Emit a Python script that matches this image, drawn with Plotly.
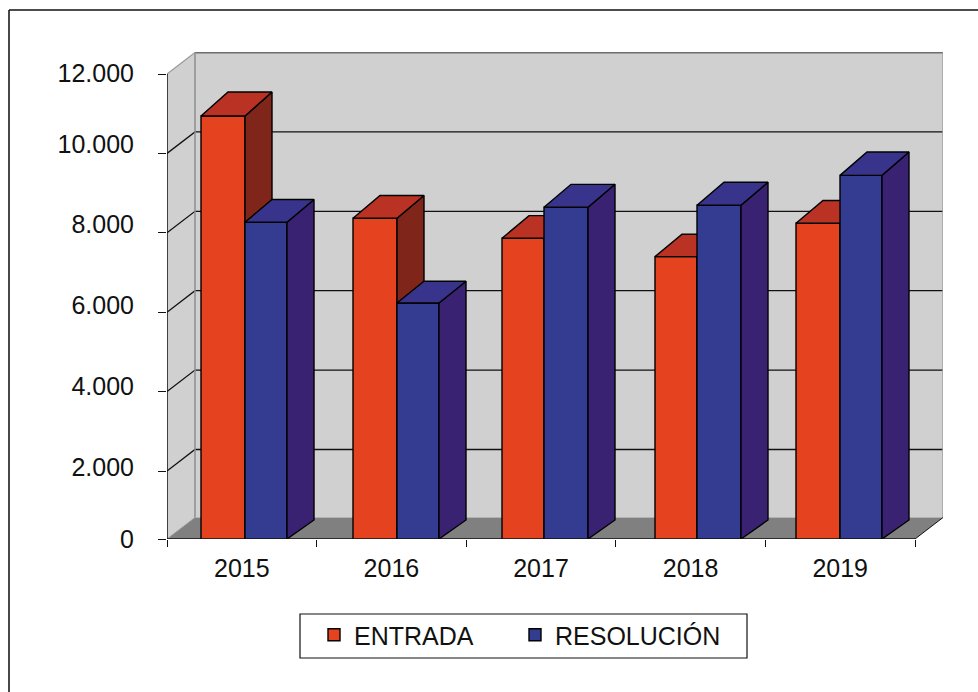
import plotly.graph_objects as go

YEARS = ["2015", "2016", "2017", "2018", "2019"]
ENTRADA = [10942, 8365, 7862, 7400, 8240]
RESOLUCION = [8265, 6230, 8642, 8693, 9446]
Y_TICKS = [12000, 10000, 8000, 6000, 4000, 2000]
Y_LABELS = ["12.000", "10.000", "8.000", "6.000", "4.000", "2.000", "0"]
Y_LABEL_PX = [73, 144, 224, 305, 386, 467, 539]
DIVIDER_PX = [245, 397, 544, 697, 840]
RED_W_PX = [44, 44, 42, 42, 44]
BLUE_W_PX = [42, 42, 44, 44, 42]

FONT = "Liberation Sans, Arial, sans-serif"
W, H = 978, 692
L, R, T, B = 167, 943, 52, 539
CAT_PX = 149.6
PX_PER_UNIT = 79.4 / 2000
V0 = 12000 - (B - 74) / PX_PER_UNIT
VMAX = 12000 + (74 - T) / PX_PER_UNIT
WALL_DX = 28 / CAT_PX
XMAX = 5 + WALL_DX
WALL_DY = 21.5 / PX_PER_UNIT
BAR_DX = 27 / CAT_PX
BAR_BASE_DY = 19 / PX_PER_UNIT
RED, RED_TOP, RED_SIDE = "#E5431F", "#B93223", "#7F2519"
BLUE, BLUE_TOP, BLUE_SIDE = "#343C92", "#38348C", "#3A2272"


def px_to_v(py):
    return 12000 - (py - 74) / PX_PER_UNIT


def back_v(v):
    return V0 + BAR_BASE_DY + (v - V0) * 1.012


def paper_x(px):
    return (px - L) / (R - L)


def paper_y(py):
    return (B - py) / (B - T)


centers = [i + 0.5 for i in range(5)]
dividers = [(p - L) / CAT_PX for p in DIVIDER_PX]
red_w = [p / CAT_PX for p in RED_W_PX]
blue_w = [p / CAT_PX for p in BLUE_W_PX]


def faces(values, lefts, widths, side_col, top_col, xa, ya):
    out = []
    for v, xl, w in zip(values, lefts, widths):
        xr = xl + w
        bv = back_v(v)
        out.append(go.Scatter(
            x=[xr, xr + BAR_DX, xr + BAR_DX, xr, xr],
            y=[V0, back_v(V0), bv, v, V0],
            fill="toself", fillcolor=side_col, mode="lines",
            line=dict(color="black", width=1.4), showlegend=False,
            hoverinfo="skip", xaxis=xa, yaxis=ya))
        out.append(go.Scatter(
            x=[xl, xl + BAR_DX, xr + BAR_DX, xr, xl],
            y=[v, bv, bv, v, v],
            fill="toself", fillcolor=top_col, mode="lines",
            line=dict(color="black", width=1.4), showlegend=False,
            hoverinfo="skip", xaxis=xa, yaxis=ya))
    return out


fig = go.Figure()
red_left = [d - w for d, w in zip(dividers, red_w)]
blue_left = dividers
red_off = [l - c for l, c in zip(red_left, centers)]
blue_off = [l - c for l, c in zip(blue_left, centers)]

fig.add_trace(go.Bar(
    x=centers, y=ENTRADA, name="ENTRADA", width=red_w, offset=red_off, legendwidth=156,
    marker=dict(color=RED, line=dict(color="black", width=1.4)), xaxis="x", yaxis="y"))
for tr in faces(ENTRADA, red_left, red_w, RED_SIDE, RED_TOP, "x", "y"):
    fig.add_trace(tr)
fig.add_trace(go.Bar(
    x=centers, y=RESOLUCION, name="RESOLUCIÓN", width=blue_w, offset=blue_off, legendwidth=190,
    marker=dict(color=BLUE, line=dict(color="black", width=1.4)), xaxis="x2", yaxis="y2"))
for tr in faces(RESOLUCION, blue_left, blue_w, BLUE_SIDE, BLUE_TOP, "x2", "y2"):
    fig.add_trace(tr)

wall_bottom = V0 + WALL_DY
wall_top = 12000 + WALL_DY
shapes = []
shapes.append(dict(type="rect", x0=WALL_DX, x1=XMAX, y0=wall_bottom, y1=wall_top,
                   fillcolor="#D0D0D0", line=dict(width=0), layer="below"))
shapes.append(dict(type="path",
                   path=f"M0,{V0} L{WALL_DX},{wall_bottom} L{WALL_DX},{wall_top} L0,12000 Z",
                   fillcolor="#D0D0D0", line=dict(width=0), layer="below"))
shapes.append(dict(type="path",
                   path=f"M0,{V0} L5,{V0} L{XMAX},{wall_bottom} L{WALL_DX},{wall_bottom} Z",
                   fillcolor="#808080", line=dict(width=0), layer="below"))
for v in Y_TICKS[1:]:
    shapes.append(dict(type="path",
                       path=f"M0,{v} L{WALL_DX},{v + WALL_DY} L{XMAX},{v + WALL_DY}",
                       line=dict(color="#111111", width=1.3), layer="below"))
shapes.append(dict(type="line", x0=WALL_DX, x1=XMAX, y0=wall_top, y1=wall_top,
                   line=dict(color="#6E6E6E", width=2), layer="below"))
shapes.append(dict(type="line", x0=WALL_DX, x1=WALL_DX, y0=wall_bottom, y1=wall_top,
                   line=dict(color="#8E8E8E", width=1.5), layer="below"))
shapes.append(dict(type="line", x0=XMAX, x1=XMAX, y0=wall_bottom, y1=wall_top,
                   line=dict(color="#A0A0A0", width=1.5), layer="below"))
shapes.append(dict(type="line", x0=0, x1=WALL_DX, y0=12000, y1=wall_top,
                   line=dict(color="#9A9A9A", width=1.2), layer="below"))
shapes.append(dict(type="line", x0=0, x1=WALL_DX, y0=V0, y1=wall_bottom,
                   line=dict(color="#9A9A9A", width=1), layer="below"))
shapes.append(dict(type="line", x0=5, x1=XMAX, y0=V0, y1=wall_bottom,
                   line=dict(color="#111111", width=1), layer="above"))
for sh in shapes:
    sh["xref"] = "x"
    sh["yref"] = "y"
shapes.append(dict(type="line", xref="paper", yref="paper",
                   x0=paper_x(9), x1=paper_x(9), y0=paper_y(10), y1=paper_y(692),
                   line=dict(color="#333333", width=1.8)))
shapes.append(dict(type="line", xref="paper", yref="paper",
                   x0=paper_x(9), x1=paper_x(978), y0=paper_y(10), y1=paper_y(10),
                   line=dict(color="#111111", width=1.5)))
shapes.append(dict(type="rect", xref="paper", yref="paper",
                   x0=paper_x(300), x1=paper_x(747), y0=paper_y(614), y1=paper_y(658),
                   line=dict(color="#111111", width=1.2)))

fig.update_layout(
    width=W, height=H, autosize=False,
    margin=dict(l=L, r=W - R, t=T, b=H - B, pad=0),
    paper_bgcolor="white", plot_bgcolor="rgba(0,0,0,0)",
    barmode="overlay", shapes=shapes,
    font=dict(family=FONT, size=25, color="#111111"),
    xaxis=dict(range=[0, XMAX], tickmode="array", tickvals=centers,
               ticktext=YEARS, ticks="", showgrid=False, zeroline=False,
               showline=False, ticklabelstandoff=12,
               minor=dict(tickmode="array", tickvals=list(range(6)), ticks="outside",
                          ticklen=7, tickwidth=1.3, tickcolor="#111111", showgrid=False)),
    yaxis=dict(range=[V0, VMAX], tickmode="array",
               tickvals=[px_to_v(p) for p in Y_LABEL_PX], ticktext=Y_LABELS,
               ticks="", showgrid=False, zeroline=False, showline=False,
               ticklabelstandoff=32,
               minor=dict(tickmode="array", tickvals=Y_TICKS + [V0], ticks="outside",
                          ticklen=8, tickwidth=1.3, tickcolor="#111111", showgrid=False)),
    xaxis2=dict(range=[0, XMAX], overlaying="x", anchor="y2", visible=False),
    yaxis2=dict(range=[V0, VMAX], overlaying="y", anchor="x2", visible=False),
    legend=dict(orientation="h", x=paper_x(314), y=paper_y(612), xanchor="left", yanchor="top",
                bgcolor="rgba(0,0,0,0)",
                borderwidth=0, font=dict(family=FONT, size=25, color="#111111"),
                traceorder="normal", itemclick=False, itemdoubleclick=False),
)
fig.add_shape(type="line", xref="x", yref="y", x0=0, x1=5, y0=V0, y1=V0,
              line=dict(color="#111111", width=1.5), layer="above")
fig.add_shape(type="line", xref="x", yref="y", x0=0, x1=0, y0=V0, y1=12000,
              line=dict(color="#111111", width=1.5), layer="above")

fig.write_html("out.html", config={"displayModeBar": False},
               post_script="document.body.style.margin='0';document.body.style.overflow='hidden';")
